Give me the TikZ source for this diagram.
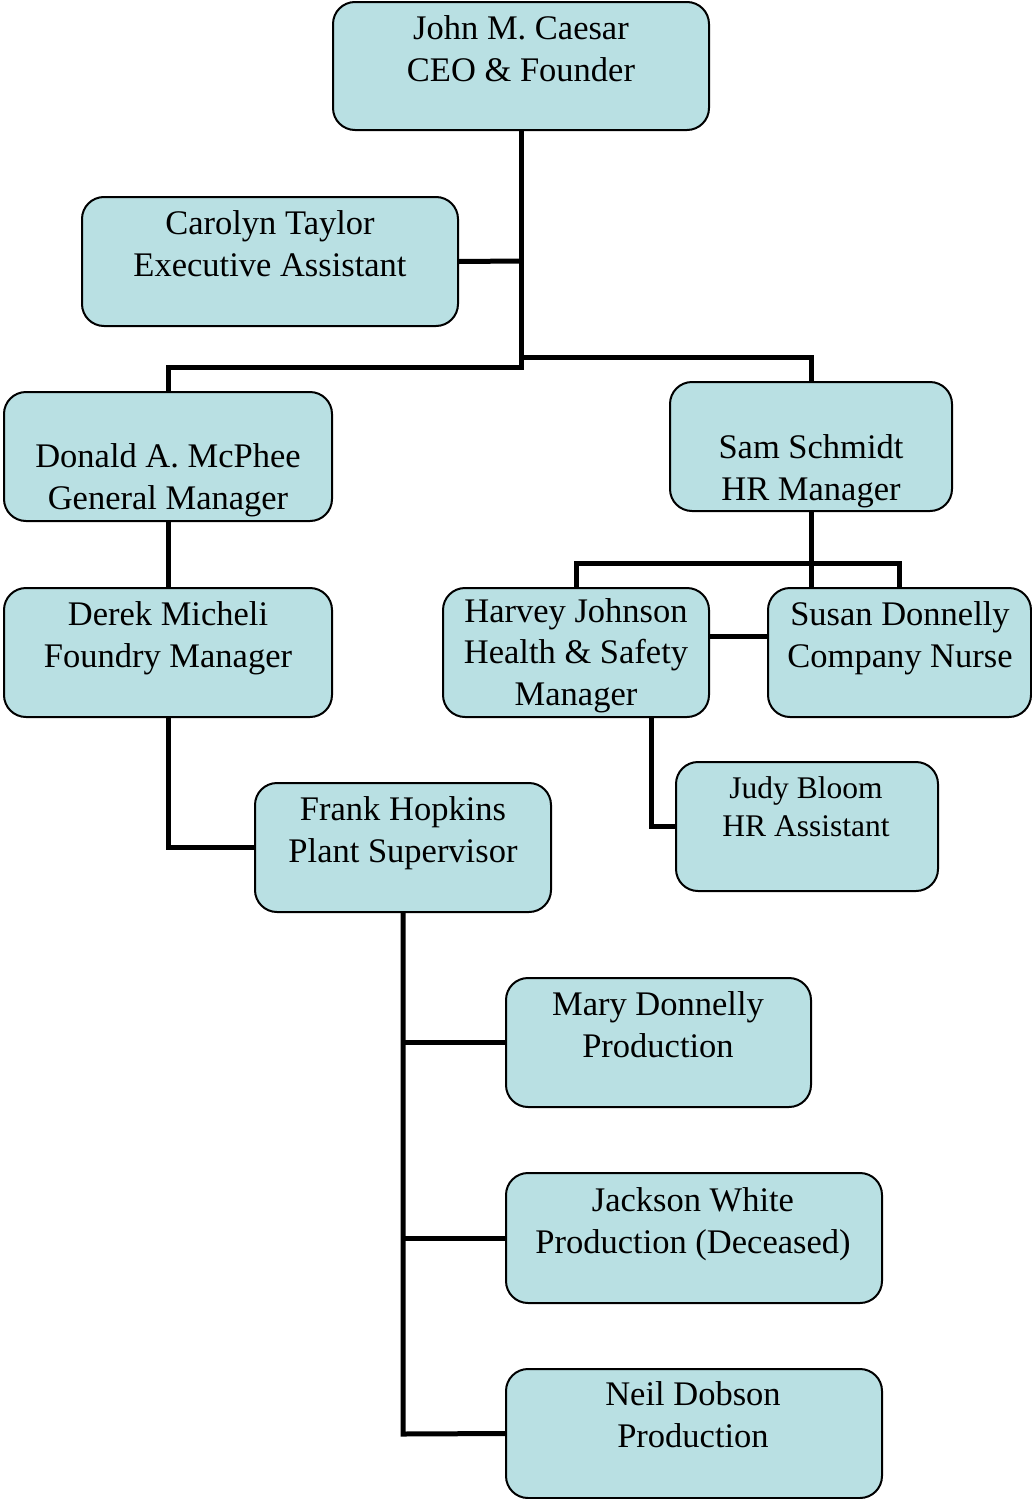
\documentclass[tikz,border=0pt]{standalone}
\usepackage{fontspec}
\setmainfont{Liberation Serif}
\definecolor{boxfill}{RGB}{185,224,227}
\begin{document}
\begin{tikzpicture}[x=1pt,y=-1pt,
  box/.style={draw=black, line width=2pt, fill=boxfill, rounded corners=22pt, inner sep=0pt},
  txt/.style={anchor=base, align=center, inner sep=0pt, font=\fontsize{34.5}{41.5}\selectfont},
  smalltxt/.style={anchor=base, align=center, inner sep=0pt, font=\fontsize{31.5}{38}\selectfont},
  link/.style={draw=black, line width=5pt}]
\useasboundingbox (0,0) rectangle (1032,1499);
% boxes
\node[box, minimum width=376pt, minimum height=128pt] (ceo) at (521,66) {};
\node[box, minimum width=376pt, minimum height=129pt] (carolyn) at (270,261.5) {};
\node[box, minimum width=328pt, minimum height=129pt] (donald) at (168,456.5) {};
\node[box, minimum width=282pt, minimum height=129pt] (sam) at (811,446.5) {};
\node[box, minimum width=328pt, minimum height=129pt] (derek) at (168,652.5) {};
\node[box, minimum width=266pt, minimum height=129pt] (harvey) at (576,652.5) {};
\node[box, minimum width=263pt, minimum height=129pt] (susan) at (899.5,652.5) {};
\node[box, minimum width=262pt, minimum height=129pt] (judy) at (807,826.5) {};
\node[box, minimum width=296pt, minimum height=129pt] (frank) at (403,847.5) {};
\node[box, minimum width=305pt, minimum height=129pt] (mary) at (658.5,1042.5) {};
\node[box, minimum width=376pt, minimum height=130pt] (jackson) at (694,1238) {};
\node[box, minimum width=376pt, minimum height=129pt] (neil) at (694,1433.5) {};
% texts (anchored at the baseline of the last line)
\node[txt] (tceo) at (521,81) {John M. Caesar\\CEO \& Founder};
\node[txt] (tcarolyn) at (270,276) {Carolyn Taylor\\Executive Assistant};
\node[txt] (tdonald) at (168,509) {Donald A. McPhee\\General Manager};
\node[txt] (tsam) at (811,500) {Sam Schmidt\\HR Manager};
\node[txt] (tderek) at (168,667) {Derek Micheli\\Foundry Manager};
\node[txt] (tharvey) at (576,705) {Harvey Johnson\\Health \& Safety\\Manager};
\node[txt] (tsusan) at (900,667) {Susan Donnelly\\Company Nurse};
\node[smalltxt] (tjudy) at (806,836) {Judy Bloom\\HR Assistant};
\node[txt] (tfrank) at (403,862) {Frank Hopkins\\Plant Supervisor};
\node[txt] (tmary) at (658,1057) {Mary Donnelly\\Production};
\node[txt] (tjackson) at (693,1253) {Jackson White\\Production (Deceased)};
\node[txt] (tneil) at (693,1447) {Neil Dobson\\Production};
% connector coordinates
\coordinate (ja) at (521,367);
\coordinate (jb) at (521,357);
\coordinate (jc) at (521,261);
\coordinate (hr) at (811,563);
\coordinate (fb) at (403,1434);
% connectors
\draw[link] (ceo.south) -- (ja) -| (donald.north);
\draw[link] (jb) -| (sam.north);
\draw[link] (carolyn.east) -- (jc);
\draw[link] (donald.south) -- (derek.north);
\draw[link] (derek.south) |- (frank.west);
\draw[link] (sam.south) -- (hr) -- (susan.north -| hr);
\draw[link] (harvey.north) |- (hr) -| (susan.north);
\draw[link] (harvey.east |- 0,636) -- (susan.west |- 0,636);
\draw[link] (harvey.south -| 651,0) |- (judy.west);
\draw[link] (frank.south) -- (fb) -- (neil.west);
\draw[link] (frank.south |- mary.west) -- (mary.west);
\draw[link] (frank.south |- jackson.west) -- (jackson.west);
\end{tikzpicture}
\end{document}
